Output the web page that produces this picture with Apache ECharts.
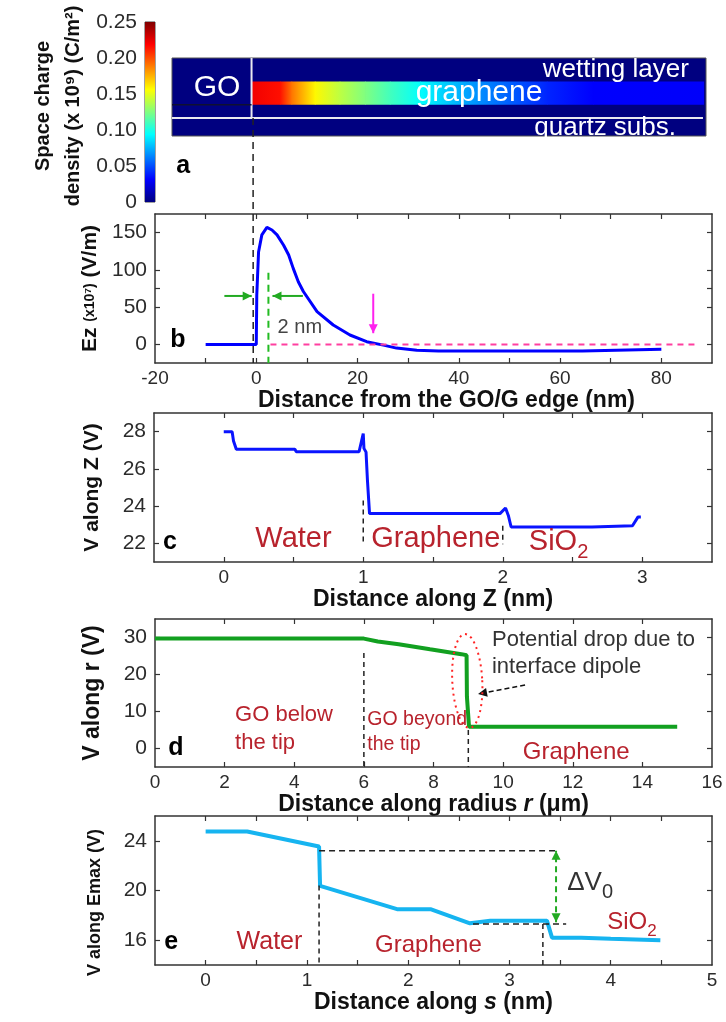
<!DOCTYPE html>
<html lang="en">
<head>
<meta charset="UTF-8">
<title>Space charge and potential profiles</title>
<style>
  html, body { margin: 0; padding: 0; background: #fff; }
  #main { width: 726px; height: 1022px; }
</style>
</head>
<body>
<div id="main"></div>
<script src="https://cdn.jsdelivr.net/npm/echarts@6/dist/echarts.min.js"></script>
<script>
// (a) space charge density along the graphene strip (x 10^9 C/m^2)
const aX = [-0.9, 4.7, 7, 11.6, 16.5, 21.5, 26.4, 32.4, 42, 57.4, 66.5, 88.3];
const aVal = [0.222, 0.215, 0.19, 0.158, 0.14, 0.125, 0.11, 0.094, 0.07, 0.04, 0.031, 0.03];
const cbTicks = [0, 0.05, 0.1, 0.15, 0.2, 0.25];

// (b) Ez vs distance from the GO/G edge
const bX = [-10, 0, 0.1, 0.45, 1.1, 2.1, 3.1, 4.1, 5.4, 6.4, 7.3, 8.3, 9.3, 12, 15.2, 18.5, 21.8, 25.1, 27.7, 31.7, 36, 64.4, 64.6, 80];
const bY = [0, 0, 66, 124, 147, 157, 153.5, 147, 133, 120, 102, 84, 71, 44, 26, 12.6, 3.6, -1, -5, -8, -9, -9, -6.5, -6.5];
const bXTicks = [-10, 0, 10, 20, 30, 40, 50, 60, 70, 80];
const bXLabels = [-20, 0, 20, 40, 60, 80];
const bYTicks = [0, 50, 75, 100, 150];
const bYLabels = [0, 50, 100, 150];

// (c) V along Z
const cX = [0, 0.06, 0.07, 0.09, 0.51, 0.52, 0.97, 1.0, 1.005, 1.02, 1.03, 1.045, 1.98, 2.02, 2.04, 2.06, 2.64, 2.65, 2.93, 2.97, 2.99];
const cY = [28.0, 28.0, 27.5, 27.05, 27.05, 26.92, 26.92, 27.9, 27.1, 26.9, 25.4, 23.6, 23.6, 23.9, 23.5, 22.88, 22.88, 22.95, 22.95, 23.42, 23.42];
const cXTicks = [0, 0.5, 1, 1.5, 2, 2.5, 3];
const cXLabels = [0, 1, 2, 3];
const cYTicks = [22, 24, 26, 28];

// (d) V along r
const dX = [0, 6, 6.4, 7, 7.9, 8.8, 8.95, 8.96, 9.0, 9.02, 15];
const dY = [29.7, 29.7, 28.9, 28.2, 26.8, 25.5, 25.2, 14, 13.5, 5.9, 5.9];
const dXTicks = [2, 4, 6, 8, 10, 12, 14];
const dXLabels = [0, 2, 4, 6, 8, 10, 12, 14, 16];
const dYTicks = [0, 10, 20, 30];

// (e) V along Emax
const eX = [0, 0.41, 1.12, 1.13, 1.89, 2.22, 2.61, 2.81, 3.37, 3.42, 3.71, 3.72, 4.0, 4.01, 4.49];
const eY = [24.75, 24.75, 23.54, 20.37, 18.5, 18.5, 17.36, 17.57, 17.57, 16.2, 16.2, 16.12, 16.12, 16.0, 16.0];
const eXTicks = [0, 0.5, 1, 1.5, 2, 2.5, 3, 3.5, 4, 4.5];
const eXLabels = [0, 1, 2, 3, 4, 5];
const eYTicks = [16, 20, 24];

const FONT = "'Liberation Sans', Arial, Helvetica, sans-serif";
const INK = '#2b2b2b';
const RED = '#b8232d';
const CB_MAX = 0.25;

// jet colour map
function jet(v) {
    const t = Math.max(0, Math.min(1, v / CB_MAX));
    const f = k => Math.round(255 * Math.max(0, Math.min(1, 1.5 - Math.abs(4 * t - k))));
    return 'rgb(' + f(3) + ',' + f(2) + ',' + f(1) + ')';
}
const pairs = (xs, ys) => xs.map((x, i) => [x, ys[i]]);

const grids = [], xAxis = [], yAxis = [], series = [];

// boxed matlab-like frame: ticks inside on all four sides
function frame(grid, xo, yo) {
    const gi = grids.length;
    grids.push(grid);
    const line = {show: true, onZero: false, lineStyle: {color: '#333', width: 1.5}};
    const ticks = v => ({show: true, inside: true, length: 5, customValues: v, lineStyle: {color: '#333', width: 1.2}});
    const off = {show: false};
    const xi = xAxis.length, yi = yAxis.length;
    xAxis.push({
        gridIndex: gi, type: 'value', position: 'bottom', min: xo.min, max: xo.max,
        axisLine: line, axisTick: ticks(xo.ticks), splitLine: off,
        axisLabel: {customValues: xo.labels, color: INK, fontSize: 19, fontFamily: FONT, margin: 6},
        name: xo.name, nameLocation: 'middle', nameGap: xo.gap,
        nameTextStyle: {color: '#111', fontSize: 23, fontWeight: 'bold', fontFamily: FONT, padding: xo.pad || 0, rich: xo.rich}
    }, {
        gridIndex: gi, type: 'value', position: 'top', min: xo.min, max: xo.max,
        axisLine: line, axisTick: ticks(xo.ticks), axisLabel: off, splitLine: off
    });
    yAxis.push({
        gridIndex: gi, type: 'value', position: 'left', min: yo.min, max: yo.max,
        axisLine: line, axisTick: ticks(yo.ticks), splitLine: off,
        axisLabel: {customValues: yo.labels || yo.ticks, color: INK, fontSize: 21, fontFamily: FONT, margin: 8},
        name: yo.name, nameLocation: 'middle', nameGap: 51, nameRotate: 90,
        nameTextStyle: {color: '#111', fontSize: yo.size || 21, fontWeight: 'bold', fontFamily: FONT, padding: yo.pad || 0, rich: yo.rich}
    }, {
        gridIndex: gi, type: 'value', position: 'right', min: yo.min, max: yo.max,
        axisLine: line, axisTick: ticks(yo.ticks), axisLabel: off, splitLine: off
    });
    return {xAxisIndex: xi, yAxisIndex: yi};
}

// colour bar
grids.push({left: 145, top: 22, width: 10, height: 180, show: true, borderColor: '#444', borderWidth: 1});
xAxis.push({gridIndex: 0, type: 'value', min: 0, max: 1, show: false});
yAxis.push({
    gridIndex: 0, type: 'value', min: 0, max: CB_MAX, position: 'left',
    axisLine: {show: false}, axisTick: {show: false}, splitLine: {show: false},
    axisLabel: {customValues: cbTicks, color: INK, fontSize: 21, fontFamily: FONT, margin: 8,
        formatter: v => v === 0 ? '0' : v.toFixed(2)},
    name: 'Space charge\ndensity (x 10⁹) (C/m²)', nameLocation: 'middle', nameRotate: 90, nameGap: 57,
    nameTextStyle: {color: '#111', fontSize: 20, fontWeight: 'bold', fontFamily: FONT, lineHeight: 30, padding: [0, 0, 0, 12]}
});
series.push({
    type: 'custom', xAxisIndex: 0, yAxisIndex: 0, silent: true,
    data: [[0, CB_MAX]],
    renderItem(params, api) {
        const p0 = api.coord([0, api.value(1)]);
        const p1 = api.coord([1, api.value(0)]);
        const stops = [0, 1, 2, 3, 4, 5, 6, 7, 8].map(k => ({offset: k / 8, color: jet(CB_MAX * k / 8)}));
        return {type: 'rect', shape: {x: p0[0], y: p0[1], width: p1[0] - p0[0], height: p1[1] - p0[1]},
            style: {fill: new echarts.graphic.LinearGradient(0, 1, 0, 0, stops)}};
    }
});

// (a) layered map
grids.push({left: 172, top: 58, width: 534, height: 78, show: true, backgroundColor: jet(0), borderColor: '#555', borderWidth: 1});
xAxis.push({gridIndex: 1, type: 'value', min: -16.6, max: 88.8, show: false});
yAxis.push({gridIndex: 1, type: 'value', min: 0, max: 10, show: false});
const A = {xAxisIndex: 1, yAxisIndex: 1};
const aBand = [4, 7];
series.push({
    type: 'custom', xAxisIndex: 1, yAxisIndex: 1, silent: true,
    data: aX.slice(0, -1).map((x, i) => [x, aX[i + 1], aVal[i], aVal[i + 1]]),
    renderItem(params, api) {
        const p0 = api.coord([api.value(0), aBand[1]]);
        const p1 = api.coord([api.value(1), aBand[0]]);
        return {type: 'rect',
            shape: {x: p0[0], y: p0[1], width: p1[0] - p0[0] + 0.6, height: p1[1] - p0[1]},
            style: {fill: new echarts.graphic.LinearGradient(0, 0, 1, 0, [
                {offset: 0, color: jet(api.value(2))}, {offset: 1, color: jet(api.value(3))}])}};
    }
});

const B = frame({left: 155, top: 214, width: 557, height: 149},
    {min: -20, max: 90, ticks: bXTicks, labels: bXLabels, name: 'Distance from the GO/G edge (nm)', gap: 20, pad: [0, 0, 0, 26]},
    {min: -25, max: 175, ticks: bYTicks, labels: bYLabels, name: '{b|Ez }{s|(x10⁷)}{b| (V/m)}',
        rich: {b: {fontSize: 21, fontWeight: 'bold', fontFamily: FONT, color: '#111'},
               s: {fontSize: 14, fontWeight: 'bold', fontFamily: FONT, color: '#111'}}});
const C = frame({left: 154, top: 413, width: 558, height: 149},
    {min: -0.5, max: 3.5, ticks: cXTicks, labels: cXLabels, name: 'Distance along Z (nm)', gap: 24},
    {min: 21, max: 29, ticks: cYTicks, name: 'V along Z (V)'});
const D = frame({left: 155, top: 619, width: 557, height: 148},
    {min: 0, max: 16, ticks: dXTicks, labels: dXLabels, name: 'Distance along radius {i|r} (μm)', gap: 21,
        rich: {i: {fontSize: 23, fontStyle: 'italic', fontFamily: FONT, color: '#111'}}},
    {min: -5, max: 35, ticks: dYTicks, name: 'V along r (V)', size: 23});
const E = frame({left: 155, top: 816, width: 557, height: 149},
    {min: -0.5, max: 5, ticks: eXTicks, labels: eXLabels, name: 'Distance along {i|s} (nm)', gap: 21,
        rich: {i: {fontSize: 23, fontStyle: 'italic', fontFamily: FONT, color: '#111'}}},
    {min: 14, max: 26, ticks: eYTicks, name: 'V along Emax (V)', size: 18, pad: [0, 24, 0, 0]});

function curve(ax, xs, ys, color, width) {
    series.push(Object.assign({
        type: 'line', data: pairs(xs, ys), showSymbol: false, symbol: 'none', silent: true,
        lineStyle: {color: color, width: width}, z: 3
    }, ax));
}
curve(B, bX, bY, '#0000ff', 3);
curve(C, cX, cY, '#0a14ff', 3);
curve(D, dX, dY, '#12a020', 4);
curve(E, eX, eY, '#16b4f0', 4);

const chart = echarts.init(document.getElementById('main'));
chart.setOption({
    animation: false,
    backgroundColor: '#fff',
    grid: grids, xAxis: xAxis, yAxis: yAxis, series: series
});

// annotations, placed through the axes
const P = (ax, x, y) => chart.convertToPixel(ax, [x, y]);
const g = [];
function seg(p, q, color, width, dash) {
    g.push({type: 'line', z: 50, shape: {x1: p[0], y1: p[1], x2: q[0], y2: q[1]},
        style: {stroke: color, lineWidth: width, lineDash: dash || null}});
}
function head(tip, from, color, L, W) {
    const dx = tip[0] - from[0], dy = tip[1] - from[1], n = Math.hypot(dx, dy);
    const ux = dx / n, uy = dy / n, bx = tip[0] - ux * L, by = tip[1] - uy * L;
    g.push({type: 'polygon', z: 51, shape: {points: [tip, [bx - uy * W, by + ux * W], [bx + uy * W, by - ux * W]]},
        style: {fill: color}});
}
function line(ax, x0, y0, x1, y1, color, width, dash) {
    seg(P(ax, x0, y0), P(ax, x1, y1), color, width, dash);
}
function arrow(ax, x0, y0, x1, y1, color, width, dash, both) {
    const p = P(ax, x0, y0), q = P(ax, x1, y1);
    seg(p, q, color, width, dash);
    head(q, p, color, 9, 4.5);
    if (both) head(p, q, color, 9, 4.5);
}
function text(ax, x, y, s, st) {
    const p = P(ax, x, y);
    g.push({type: 'text', z: 60, x: p[0], y: p[1], style: Object.assign({
        text: s, fill: RED, fontFamily: FONT, fontSize: 24, align: 'center', verticalAlign: 'middle'}, st)});
}
const tag = {fill: '#000', fontSize: 25, fontWeight: 'bold'};
const subRich = (size, sub) => ({n: {fontSize: size, lineHeight: size + 12, fontFamily: FONT},
    sub: {fontSize: sub, lineHeight: sub, verticalAlign: 'bottom', fontFamily: FONT}});

// (a)
line(A, -16.6, 2.3, 88.2, 2.3, '#e8e8f0', 2);
line(A, -0.9, 2.3, -0.9, 10, '#e8e8f0', 2);
line(A, -16.6, 4, -0.9, 4, '#101030', 1.5);
text(A, -7.7, 6.15, 'GO', {fill: '#fff', fontSize: 30});
text(A, 71, 8.46, 'wetting layer', {fill: '#fff', fontSize: 26});
text(A, 44, 5.5, 'graphene', {fill: '#fff', fontSize: 30});
text(A, 68.9, 1.0, 'quartz subs.', {fill: '#fff', fontSize: 26});
text(A, -14.4, -3.85, 'a', tag);

// (b)
seg(P(A, -0.6, 2.3), P(B, -0.6, -25), '#222', 1.5, [7, 5]);
line(B, 2.8, 0, 87, 0, '#ff3fa0', 2, [6, 5]);
arrow(B, 23.1, 68, 23.1, 15, '#ff22ee', 2);
line(B, 2.4, 96, 2.4, -25, '#22bb22', 2, [7, 5]);
arrow(B, -6.3, 65, -0.9, 65, '#22aa22', 2);
arrow(B, 9.2, 65, 3.2, 65, '#22aa22', 2);
text(B, 8.6, 23, '2 nm', {fill: '#444', fontSize: 20});
text(B, -15.5, 6, 'b', tag);

// (c)
line(C, 1, 24.3, 1, 21.9, '#222', 1.5, [5, 4]);
line(C, 2, 22.95, 2, 21.95, '#222', 1.5, [5, 4]);
text(C, 0.5, 22.23, 'Water', {fontSize: 29});
text(C, 1.52, 22.23, 'Graphene', {fontSize: 29});
text(C, 2.4, 22.1, '{n|SiO}{sub|2}', {fontSize: 29, rich: subRich(29, 20)});
text(C, -0.385, 22.07, 'c', tag);

// (d)
line(D, 6, 25.8, 6, -5, '#222', 1.5, [5, 4]);
line(D, 9, 5.0, 9, -5, '#222', 1.5, [5, 4]);
text(D, 2.3, 5.27, 'GO below\nthe tip', {fontSize: 22, lineHeight: 28, align: 'left'});
text(D, 6.1, 4.32, 'GO beyond\nthe tip', {fontSize: 19.5, lineHeight: 25, align: 'left'});
text(D, 12.1, -0.95, 'Graphene', {fontSize: 24});
text(D, 9.68, 25.68, 'Potential drop due to\ninterface dipole', {fill: '#333', fontSize: 22, lineHeight: 27, align: 'left'});
arrow(D, 10.63, 17.16, 9.28, 14.73, '#111', 1.5, [5, 3]);
(function () {
    const c = P(D, 8.97, 18.24), pts = [];
    const rx = 15, ry = 47, rot = 0.05;
    for (let k = 0; k < 72; k++) {
        const t = k / 72 * Math.PI * 2, ex = rx * Math.cos(t), ey = ry * Math.sin(t);
        pts.push([c[0] + ex * Math.cos(rot) + ey * Math.sin(rot), c[1] - ex * Math.sin(rot) + ey * Math.cos(rot)]);
    }
    g.push({type: 'polygon', z: 52, shape: {points: pts}, style: {fill: null, stroke: '#ff2424', lineWidth: 2, lineDash: [2, 4]}});
})();
text(D, 0.6, 0.14, 'd', tag);

// (e)
line(E, 1.12, 23.2, 3.46, 23.2, '#222', 1.5, [6, 4]);
line(E, 2.64, 17.3, 3.56, 17.3, '#222', 1.5, [6, 4]);
line(E, 1.12, 20.4, 1.12, 14, '#222', 1.5, [5, 4]);
line(E, 3.33, 17.3, 3.33, 14, '#222', 1.5, [5, 4]);
arrow(E, 3.46, 17.45, 3.46, 23.2, '#22aa22', 2, [6, 4], true);
text(E, 3.57, 20.6, '{n|ΔV}{sub|0}', {fill: '#333', align: 'left', rich: subRich(26, 20)});
text(E, 0.63, 15.85, 'Water', {fontSize: 25});
text(E, 2.2, 15.6, 'Graphene', {fontSize: 24});
text(E, 4.21, 17.47, '{n|SiO}{sub|2}', {rich: subRich(24, 17)});
text(E, -0.34, 15.85, 'e', tag);

chart.setOption({graphic: {elements: g}});
</script>
</body>
</html>
